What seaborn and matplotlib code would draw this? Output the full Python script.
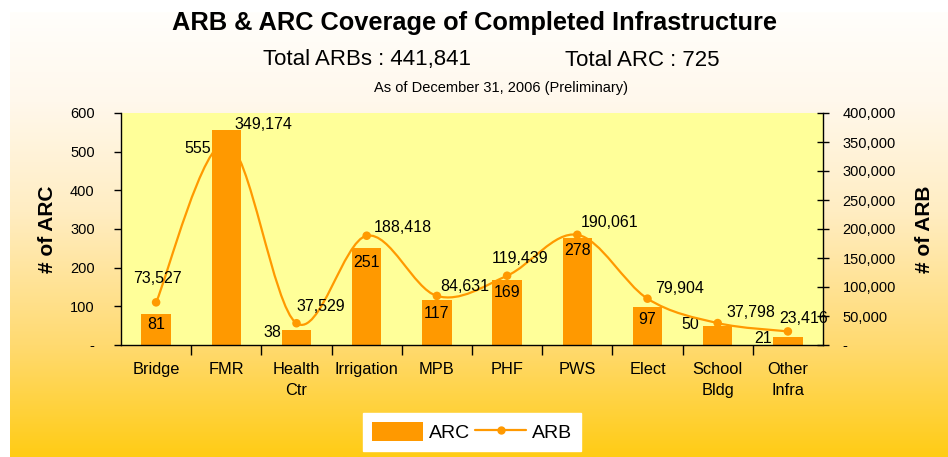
import numpy as np
import pandas as pd
import matplotlib
matplotlib.use("Agg")
import matplotlib.pyplot as plt
import seaborn as sns
from matplotlib.colors import LinearSegmentedColormap
from matplotlib.path import Path
from matplotlib.patches import PathPatch, Patch
from matplotlib.lines import Line2D
from matplotlib.ticker import FuncFormatter

# данные
categories = ["Bridge", "FMR", "Health\nCtr", "Irrigation", "MPB", "PHF", "PWS",
              "Elect", "School\nBldg", "Other\nInfra"]
arc_values = [81, 555, 38, 251, 117, 169, 278, 97, 50, 21]
arb_values = [73527, 349174, 37529, 188418, 84631, 119439, 190061, 79904, 37798, 23416]

# смещения подписей (пиксели)
arc_offsets = [(0, -11), (-29, -18), (-24, -2), (0, -15), (0, -14), (0, -13), (0, -13),
               (0, -12), (-27, 1), (-25, -2)]
arb_offsets = [(1, 24), (37, 18), (24, 17), (36, 8), (28, 9), (13, 17), (32, 12),
               (32, 10), (33, 11), (16, 13)]

ORANGE = "#FF9900"

sns.set_theme(style="white")
plt.rcParams["font.family"] = ["Liberation Sans", "DejaVu Sans"]
plt.rcParams["text.color"] = "black"
plt.rcParams["axes.labelcolor"] = "black"
plt.rcParams["xtick.color"] = "black"
plt.rcParams["ytick.color"] = "black"

df = pd.DataFrame({"cat": categories, "ARC": arc_values, "ARB": arb_values})

fig = plt.figure(figsize=(9.48, 4.57), dpi=100)
fig.patch.set_facecolor("white")

# фон с градиентом
bg = fig.add_axes([10 / 948, 0, 938 / 948, 445 / 457], zorder=-10)
grad_cmap = LinearSegmentedColormap.from_list(
    "bg", [(0.0, "#FFFEFB"), (0.2, "#FFF8EC"), (0.45, "#FFEDC2"),
           (0.75, "#FFDA70"), (1.0, "#FFCC15")])
bg.imshow(np.linspace(0, 1, 256).reshape(-1, 1), aspect="auto", cmap=grad_cmap,
          extent=[0, 1, 0, 1], origin="upper")
bg.set_axis_off()

ax = fig.add_axes([121 / 948, (457 - 345) / 457, (823 - 121) / 948, (345 - 113) / 457])
ax.set_facecolor("#FFFF99")

sns.barplot(data=df, x="cat", y="ARC", color=ORANGE, width=0.42, saturation=1,
            linewidth=0, ax=ax, zorder=2)
ax.set_ylim(0, 600)
ax.set_xlim(-0.5, len(categories) - 0.5)
ax.set_yticks(range(0, 601, 100))
ax.yaxis.set_major_formatter(FuncFormatter(lambda v, p: "-" if v == 0 else f"{int(v)}"))
ax.set_xlabel("")
ax.set_ylabel("# of ARC", fontsize=15, fontweight="bold", labelpad=9)
ax.tick_params(axis="y", direction="out", length=5, width=1, color="black",
               labelsize=10.5, pad=14, left=True)
ax.set_xticks(range(len(categories)))
ax.set_xticklabels(categories, fontsize=11.8, linespacing=1.5)
ax.tick_params(axis="x", length=0, pad=12)
ax.set_xticks(np.arange(0.5, len(categories) - 0.5, 1), minor=True)
ax.tick_params(axis="x", which="minor", direction="out", length=7, width=1,
               color="black", bottom=True)
for s in ["left", "bottom"]:
    ax.spines[s].set_color("black")
    ax.spines[s].set_linewidth(1)
ax.spines["top"].set_visible(False)
ax.spines["right"].set_visible(False)

for i, v in enumerate(arc_values):
    ax.annotate(f"{v}", (i, v), xytext=arc_offsets[i], textcoords="offset pixels",
                ha="center", va="center", fontsize=11.5, zorder=6)

ax2 = ax.twinx()
ax2.set_ylim(0, 400000)
ax2.set_yticks(range(0, 400001, 50000))
ax2.yaxis.set_major_formatter(FuncFormatter(lambda v, p: "-" if v == 0 else f"{int(v):,}"))
ax2.tick_params(axis="y", direction="inout", length=8, width=1, color="black",
                labelsize=10.5, pad=10, right=True)
ax2.set_ylabel("# of ARB", fontsize=15, fontweight="bold", labelpad=14)
for s in ["top", "left", "bottom"]:
    ax2.spines[s].set_visible(False)
ax2.spines["right"].set_color("black")
ax2.spines["right"].set_linewidth(1)

# сглаженная линия (кривые Безье через точки)
xs = np.arange(len(arb_values), dtype=float)
ys = np.array(arb_values, dtype=float)
verts = [(xs[0], ys[0])]
codes = [Path.MOVETO]
n = len(xs)
for i in range(n - 1):
    p0 = (xs[max(i - 1, 0)], ys[max(i - 1, 0)])
    p1 = (xs[i], ys[i])
    p2 = (xs[i + 1], ys[i + 1])
    p3 = (xs[min(i + 2, n - 1)], ys[min(i + 2, n - 1)])
    c1 = (p1[0] + (p2[0] - p0[0]) / 6, p1[1] + (p2[1] - p0[1]) / 6)
    c2 = (p2[0] - (p3[0] - p1[0]) / 6, p2[1] - (p3[1] - p1[1]) / 6)
    verts += [c1, c2, p2]
    codes += [Path.CURVE4] * 3
ax2.add_patch(PathPatch(Path(verts, codes), facecolor="none", edgecolor=ORANGE,
                        lw=1.6, zorder=3))
sns.scatterplot(x=xs, y=ys, ax=ax2, color=ORANGE, s=38, edgecolor="none", zorder=4,
                legend=False)

for i, v in enumerate(arb_values):
    ax2.annotate(f"{v:,}", (i, v), xytext=arb_offsets[i], textcoords="offset pixels",
                 ha="center", va="center", fontsize=11.5, zorder=6)

# заголовки
fig.text(474 / 948, 1 - 23 / 457, "ARB & ARC Coverage of Completed Infrastructure",
         ha="center", va="center", fontsize=18.3, fontweight="bold")
fig.text(367 / 948, 1 - 60 / 457, "Total ARBs : 441,841",
         ha="center", va="center", fontsize=16)
fig.text(642 / 948, 1 - 60 / 457, "Total ARC : 725",
         ha="center", va="center", fontsize=16)
fig.text(501 / 948, 1 - 88 / 457, "As of December 31, 2006 (Preliminary)",
         ha="center", va="center", fontsize=10.5)

handles = [Patch(facecolor=ORANGE, edgecolor="none"),
           Line2D([0], [0], color=ORANGE, lw=1.6, marker="o", markersize=5)]
leg = fig.legend(handles, ["ARC", "ARB"], loc="center", ncol=2,
                 bbox_to_anchor=(472 / 948, 1 - 432 / 457), frameon=True,
                 fontsize=14, handlelength=2.6, handleheight=1.1,
                 columnspacing=0.3, handletextpad=0.3, borderpad=0.45, fancybox=False)
leg.get_frame().set_facecolor("white")
leg.get_frame().set_edgecolor("white")
leg.get_frame().set_alpha(1)

fig.savefig("out.png", dpi=100)
